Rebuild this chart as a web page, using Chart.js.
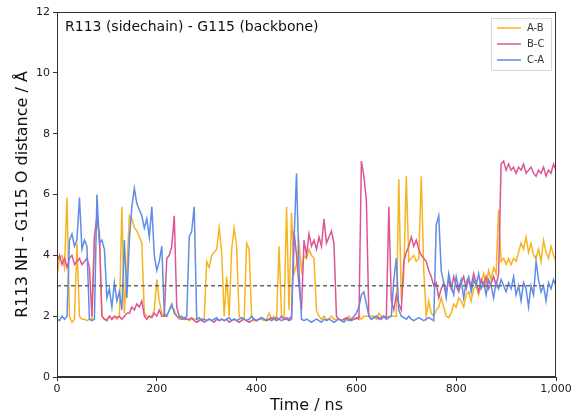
<!DOCTYPE html>
<html>
<head>
<meta charset="utf-8">
<script src="https://cdn.jsdelivr.net/npm/chart.js@4/dist/chart.umd.min.js"></script>
<style>
  html, body { margin: 0; padding: 0; background: #fff; }
  #wrap { width: 580px; height: 419px; }
</style>
</head>
<body>
<div id="wrap"><canvas id="distChart" width="580" height="419"></canvas></div>
<script>
// sampling every 5 ns, 0..1000
const STEP_NS = 5;
const xTicks = [0, 200, 400, 600, 800, 1000];
const yTicks = [0, 2, 4, 6, 8, 10, 12];
const seriesNames = ["A-B", "B-C", "C-A"];
const cutoff = 3.0;
const cutoffEnd = 985;

// A-B (one row = 50 ns)
const distAB = [
  3.3, 3.9, 4.0, 3.6, 5.9, 2.0, 1.8, 1.9, 4.4, 2.0,
  1.9, 1.9, 1.85, 1.9, 1.9, 4.6, 5.0, 4.8, 2.0, 1.9,
  1.9, 2.0, 1.9, 2.0, 1.9, 2.0, 5.6, 2.1, 3.5, 5.3,
  5.2, 4.9, 4.8, 4.6, 4.4, 2.1, 2.0, 2.0, 2.0, 2.2,
  3.2, 2.5, 2.1, 2.0, 2.0, 2.2, 2.3, 2.2, 2.0, 1.9,
  1.9, 1.9, 1.9, 1.85, 1.9, 1.9, 1.9, 1.85, 1.9, 1.9,
  3.8, 3.6, 4.0, 4.1, 4.2, 4.9, 4.1, 2.0, 3.3, 2.0,
  4.2, 4.9, 4.3, 2.0, 1.9, 1.9, 4.4, 4.2, 2.0, 1.85,
  1.85, 1.9, 1.9, 1.85, 1.9, 2.1, 1.9, 2.0, 1.9, 4.3,
  2.0, 1.9, 5.6, 2.2, 5.4, 3.4, 3.7, 4.4, 3.5, 4.0,
  3.9, 4.2, 4.0, 3.9, 2.2, 2.0, 1.9, 2.0, 1.9, 1.9,
  2.0, 1.9, 1.9, 1.9, 1.85, 1.9, 1.9, 2.0, 1.9, 1.9,
  1.9, 2.0, 1.9, 2.0, 2.0, 2.0, 2.0, 2.0, 1.9, 2.1,
  2.0, 2.0, 1.95, 2.0, 2.0, 2.0, 2.0, 6.5, 2.5, 3.4,
  6.6, 3.8, 3.9, 4.0, 3.8, 3.9, 6.6, 3.5, 2.0, 2.5,
  2.1, 2.0, 2.2, 2.3, 2.6, 2.3, 2.0, 1.95, 2.1, 2.4,
  2.3, 2.6, 2.5, 2.3, 2.7, 2.8, 2.5, 2.9, 3.0, 2.7,
  3.1, 3.4, 3.0, 3.5, 3.2, 3.6, 3.4, 5.5, 3.8, 3.9,
  3.7, 3.9, 3.7, 3.9, 3.8, 4.1, 4.4, 4.2, 4.6, 4.1,
  4.4, 4.0, 3.9, 4.2, 3.8, 4.5, 4.1, 3.9, 4.3, 4.0,
  3.8
];

// B-C
const distBC = [
  3.8, 4.0, 3.7, 3.9, 3.6, 3.9, 4.0, 3.7, 3.8, 3.9,
  3.7, 3.8, 3.9, 3.6, 2.0, 4.6, 5.3, 4.6, 2.0, 1.9,
  1.85, 2.0, 1.9, 2.0, 1.95, 2.0, 1.9, 2.0, 2.1, 2.1,
  2.3, 2.2, 2.4, 2.3, 2.5, 2.0, 1.9, 2.0, 1.95, 2.1,
  2.0, 2.2, 2.0, 2.0, 3.9, 4.0, 4.3, 5.3, 2.3, 2.0,
  1.9, 1.95, 1.9, 1.9, 1.95, 1.85, 1.8, 1.85, 1.9, 1.8,
  1.85, 1.9, 1.85, 1.8, 1.9, 1.85, 1.9, 1.85, 1.9, 1.8,
  1.85, 1.9, 1.85, 1.8, 1.85, 1.9, 1.85, 1.8, 1.85, 1.9,
  1.85, 1.9, 1.95, 1.9, 1.85, 1.9, 1.95, 1.9, 1.85, 1.9,
  2.0, 1.9, 1.95, 1.9, 2.0, 4.8, 4.0, 3.0, 2.2, 4.5,
  4.0, 4.7, 4.3, 4.5, 4.2, 4.6, 4.3, 5.2, 4.4, 4.6,
  4.8, 4.4, 2.0, 1.9, 1.85, 1.9, 1.95, 1.9, 1.85, 1.9,
  1.95, 1.9, 7.1, 6.6, 5.8, 2.0, 1.9, 1.95, 2.0, 1.95,
  1.9, 2.0, 1.95, 5.6, 2.5, 2.2, 2.7, 2.4, 2.2, 3.8,
  4.1, 4.3, 4.6, 4.3, 4.5, 4.2, 4.0, 3.9, 3.8, 3.5,
  3.3, 3.0, 3.1, 2.6, 2.9, 3.1, 2.8, 3.2, 2.9, 3.3,
  3.0, 2.8, 3.1, 3.3, 2.9, 3.2, 3.0, 3.4, 3.1, 2.8,
  3.2, 3.0, 3.3, 2.9, 3.1, 3.3, 3.0, 3.4, 7.0, 7.1,
  6.8, 7.0, 6.8, 6.9, 6.7, 6.9, 6.8, 7.0, 6.7, 6.8,
  6.9, 6.7, 6.6, 6.8, 6.7, 6.9, 6.6, 6.8, 6.7, 7.0,
  6.8
];

// C-A
const distCA = [
  1.9, 1.85, 2.0, 1.9, 2.0, 4.5, 4.7, 4.3, 4.5, 5.9,
  4.2, 4.5, 4.3, 1.9, 1.85, 1.9, 6.0, 4.4, 4.5, 4.2,
  2.6, 2.9, 2.3, 3.1, 2.5, 2.8, 2.2, 4.5, 2.6, 4.5,
  5.6, 6.2, 5.7, 5.5, 5.3, 4.9, 5.2, 4.6, 5.6, 4.0,
  3.5, 3.8, 4.3, 2.1, 2.0, 2.2, 2.4, 2.1, 2.0, 1.95,
  2.0, 1.9, 2.0, 4.6, 4.8, 5.6, 1.9, 1.95, 1.85, 1.9,
  1.85, 1.9, 1.85, 1.9, 1.95, 1.85, 1.9, 1.85, 1.9, 1.95,
  1.85, 1.9, 1.85, 1.9, 1.95, 1.9, 1.85, 1.9, 2.0, 1.9,
  1.85, 1.9, 1.95, 1.9, 1.85, 1.9, 1.85, 1.9, 1.95, 1.9,
  1.85, 1.9, 1.9, 1.85, 1.9, 4.5, 6.7, 3.5, 1.9, 1.85,
  1.9, 1.85, 1.8, 1.85, 1.9, 1.85, 1.8, 1.9, 1.85, 1.9,
  1.85, 1.8, 1.85, 1.9, 1.85, 1.8, 1.9, 1.85, 1.9, 2.0,
  2.1, 2.3, 2.7, 2.8, 2.4, 2.0, 1.9, 1.95, 2.0, 1.9,
  1.95, 2.0, 1.9, 1.95, 2.0, 3.2, 3.9, 2.2, 2.0, 1.95,
  1.9, 2.0, 1.9, 1.85, 1.9, 1.95, 1.9, 1.85, 1.9, 1.95,
  1.9, 1.85, 5.0, 5.3, 3.5, 3.1, 2.6, 3.4, 3.0, 2.7,
  3.3, 2.9, 3.2, 2.6, 3.1, 3.3, 2.8, 3.2, 3.0, 3.4,
  2.9, 3.1, 2.7, 3.2, 3.0, 2.6, 3.1, 2.9, 3.2, 3.0,
  2.8, 3.1, 2.9, 3.3, 2.7, 3.0, 2.5, 3.1, 2.9, 2.3,
  3.0, 2.7, 3.8, 3.2, 2.8, 3.0, 2.5, 3.1, 2.9, 3.2,
  3.0
];

const colors = ["#f7b420", "#de5597", "#5f8de6"];

function toPoints(arr) {
  return arr.map((v, i) => ({ x: i * STEP_NS, y: v }));
}

const FONT = "'DejaVu Sans', sans-serif";

// frame + in-plot title + legend box (matplotlib look)
const decorPlugin = {
  id: "decor",
  afterDraw(chart) {
    const { ctx, chartArea: a } = chart;
    ctx.save();
    ctx.strokeStyle = "#333";
    ctx.lineWidth = 1;
    ctx.strokeRect(a.left + 0.5, a.top + 0.5, a.right - a.left - 1, a.bottom - a.top - 1);

    ctx.fillStyle = "#111";
    ctx.font = "14px " + FONT;
    ctx.textBaseline = "middle";
    ctx.textAlign = "left";
    ctx.fillText("R113 (sidechain) - G115 (backbone)", a.left + 8, a.top + 15);

    // legend
    const bx = a.right - 65, by = a.top + 6, bw = 60, bh = 52;
    ctx.fillStyle = "rgba(255,255,255,0.85)";
    ctx.strokeStyle = "#d8d8d8";
    ctx.beginPath();
    ctx.rect(bx + 0.5, by + 0.5, bw, bh);
    ctx.fill();
    ctx.stroke();
    ctx.font = "10px " + FONT;
    seriesNames.forEach((name, i) => {
      const yy = by + 10 + i * 16;
      ctx.strokeStyle = colors[i];
      ctx.lineWidth = 1.5;
      ctx.beginPath();
      ctx.moveTo(bx + 6, yy);
      ctx.lineTo(bx + 30, yy);
      ctx.stroke();
      ctx.fillStyle = "#333";
      ctx.fillText(name, bx + 36, yy);
    });
    ctx.restore();
  }
};

const lineDs = (label, data, color, order) => ({
  label,
  data: toPoints(data),
  borderColor: color,
  borderWidth: 1.5,
  pointRadius: 0,
  tension: 0,
  fill: false,
  order
});

new Chart(document.getElementById("distChart"), {
  type: "line",
  data: {
    datasets: [
      lineDs(seriesNames[0], distAB, colors[0], 3),
      lineDs(seriesNames[1], distBC, colors[1], 2),
      lineDs(seriesNames[2], distCA, colors[2], 1),
      {
        label: "cutoff",
        data: [{ x: 0, y: cutoff }, { x: cutoffEnd, y: cutoff }],
        borderColor: "#666",
        borderWidth: 1.5,
        borderDash: [4, 3],
        pointRadius: 0,
        order: 0
      }
    ]
  },
  options: {
    responsive: false,
    animation: false,
    layout: { padding: { left: 0, right: 24, top: 12, bottom: 0 } },
    plugins: { legend: { display: false }, tooltip: { enabled: false } },
    scales: {
      x: {
        type: "linear",
        min: 0,
        max: 1000,
        afterFit: (s) => { s.height = 42; },
        afterBuildTicks: (s) => { s.ticks = xTicks.map((v) => ({ value: v })); },
        grid: { drawOnChartArea: false, tickLength: 4, color: "#333" },
        border: { color: "#333" },
        ticks: { color: "#222", font: { family: FONT, size: 11 }, padding: 2, maxRotation: 0 },
        title: { display: true, text: "Time / ns", color: "#111", font: { family: FONT, size: 16 }, padding: { bottom: 4 } }
      },
      y: {
        min: 0,
        max: 12,
        afterFit: (s) => { s.width = 57; },
        afterBuildTicks: (s) => { s.ticks = yTicks.map((v) => ({ value: v })); },
        grid: { drawOnChartArea: false, tickLength: 4, color: "#333" },
        border: { color: "#333" },
        ticks: { color: "#222", font: { family: FONT, size: 11 }, padding: 3 },
        title: { display: true, text: "R113 NH - G115 O distance / Å", color: "#111", font: { family: FONT, size: 16 }, padding: { top: 13 } }
      }
    }
  },
  plugins: [decorPlugin]
});
</script>
</body>
</html>
